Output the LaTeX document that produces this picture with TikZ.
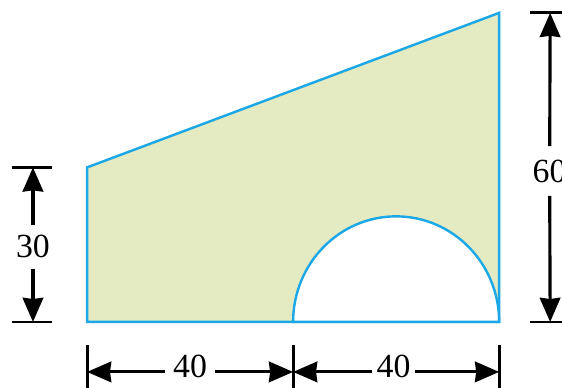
\documentclass[tikz,border=0pt]{standalone}
\usepackage{fontspec}
\setmainfont{Liberation Serif}
\usetikzlibrary{arrows.meta}
\definecolor{PlateBlue}{HTML}{1CA7E6}
\definecolor{PlateGreen}{HTML}{E4EBC3}

\begin{document}
\begin{tikzpicture}[x=0.15cm, y=0.15cm,
    dimline/.style={line width=2.6pt, -{Stealth[length=20pt, width=17pt, inset=1pt]}},
    dimtick/.style={line width=2.4pt},
    dimlabel/.style={font=\fontsize{28}{32}\selectfont, inner sep=8.5pt}]
  \useasboundingbox (-16.9,-12.8) rectangle (92.2,62.5);

  % --- Plate ---
  \draw[PlateBlue, line width=2pt, fill=PlateGreen]
      (0,0) -- (0,30) -- (80,60) -- (80,0) -- cycle;
  % cut-out arch
  \draw[PlateBlue, line width=2pt, fill=white]
      (40,0) arc[start angle=180, end angle=0, x radius=20, y radius=20.5] -- cycle;

  % --- Left dimension (30) ---
  \coordinate (l30top) at (-10.5,30);
  \coordinate (l30bot) at (-10.5,0);
  \draw[dimtick] (l30top) ++(-4.1,0) -- ++(7.8,0);
  \draw[dimtick] (l30bot) ++(-4.1,0) -- ++(7.8,0);
  \node[dimlabel] (h30) at (-10.5,14.6) {30};
  \draw[dimline] (h30) -- (l30top);
  \draw[dimline] (h30) -- (l30bot);

  % --- Right dimension (60) ---
  \coordinate (r60top) at (89.9,60);
  \coordinate (r60bot) at (89.9,0);
  \draw[dimtick] (r60top) ++(-3.9,0) -- ++(8,0);
  \draw[dimtick] (r60bot) ++(-3.9,0) -- ++(8,0);
  \node[dimlabel, inner ysep=11pt] (h60) at (89.8,29.3) {60};
  \draw[dimline] (h60) -- (r60top);
  \draw[dimline] (h60) -- (r60bot);

  % --- Bottom dimensions (40, 40) ---
  \coordinate (d0) at (0,-9.7);
  \coordinate (d40) at (40,-9.7);
  \coordinate (d80) at (80,-9.7);
  \foreach \c in {d0, d40, d80}
    \draw[dimtick] (\c) ++(0,5.2) -- ++(0,-8.5);
  \node[dimlabel, inner xsep=6.7pt] (w40a) at (20,-8.6) {40};
  \node[dimlabel, inner xsep=3.5pt] (w40b) at (59.5,-8.6) {40};
  \draw[dimline] (w40a.west |- d0) -- (d0);
  \draw[dimline] (w40a.east |- d0) -- (d40);
  \draw[dimline] (w40b.west |- d40) -- (d40);
  \draw[dimline] (w40b.east |- d80) -- (d80);
\end{tikzpicture}
\end{document}
